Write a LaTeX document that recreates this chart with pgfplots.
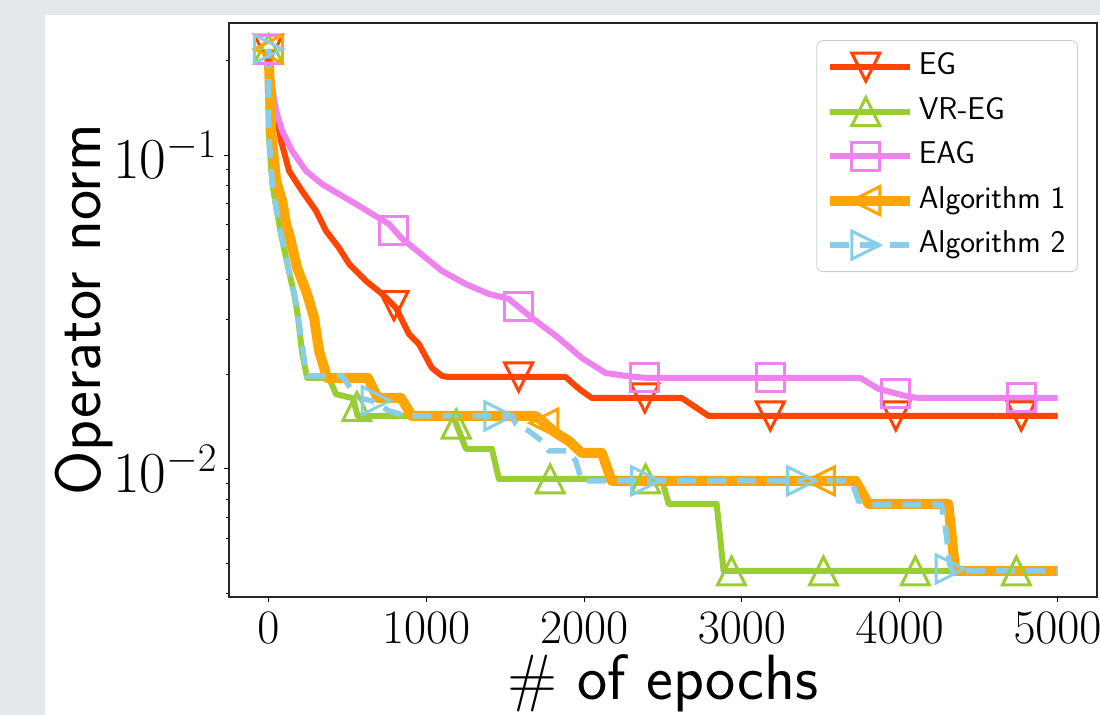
\RequirePackage{fix-cm}
\documentclass[border=0pt]{standalone}
\usepackage{pgfplots}
\pgfplotsset{compat=1.18}

\definecolor{cEG}{HTML}{FF4500}
\definecolor{cVR}{HTML}{9ACD32}
\definecolor{cEAG}{HTML}{EE82EE}
\definecolor{cAa}{HTML}{FFA500}
\definecolor{cAb}{HTML}{87CEEB}
\definecolor{bggray}{RGB}{229,232,234}

% matplotlib-like open markers
\pgfdeclareplotmark{mplv}{%
  \pgfpathmoveto{\pgfqpoint{0pt}{-\pgfplotmarksize}}%
  \pgfpathlineto{\pgfqpoint{-\pgfplotmarksize}{\pgfplotmarksize}}%
  \pgfpathlineto{\pgfqpoint{\pgfplotmarksize}{\pgfplotmarksize}}%
  \pgfpathclose\pgfusepathqstroke}
\pgfdeclareplotmark{mplup}{%
  \pgfpathmoveto{\pgfqpoint{0pt}{\pgfplotmarksize}}%
  \pgfpathlineto{\pgfqpoint{-\pgfplotmarksize}{-\pgfplotmarksize}}%
  \pgfpathlineto{\pgfqpoint{\pgfplotmarksize}{-\pgfplotmarksize}}%
  \pgfpathclose\pgfusepathqstroke}
\pgfdeclareplotmark{mplleft}{%
  \pgfpathmoveto{\pgfqpoint{-\pgfplotmarksize}{0pt}}%
  \pgfpathlineto{\pgfqpoint{\pgfplotmarksize}{-\pgfplotmarksize}}%
  \pgfpathlineto{\pgfqpoint{\pgfplotmarksize}{\pgfplotmarksize}}%
  \pgfpathclose\pgfusepathqstroke}
\pgfdeclareplotmark{mplright}{%
  \pgfpathmoveto{\pgfqpoint{\pgfplotmarksize}{0pt}}%
  \pgfpathlineto{\pgfqpoint{-\pgfplotmarksize}{-\pgfplotmarksize}}%
  \pgfpathlineto{\pgfqpoint{-\pgfplotmarksize}{\pgfplotmarksize}}%
  \pgfpathclose\pgfusepathqstroke}
\pgfdeclareplotmark{mplsq}{%
  \pgfpathrectangle{\pgfqpoint{-\pgfplotmarksize}{-\pgfplotmarksize}}%
    {\pgfqpoint{2\pgfplotmarksize}{2\pgfplotmarksize}}%
  \pgfusepathqstroke}

\begin{document}
\begin{tikzpicture}
\useasboundingbox (0,0) rectangle (550pt,357.5pt);
\fill[bggray] (0,0) rectangle (550pt,357.5pt);
\fill[white] (22.5pt,0) rectangle (550pt,350pt);
\begin{axis}[
    at={(114.5pt,59pt)}, anchor=south west,
    scale only axis,
    width=434pt, height=287pt,
    xmin=-250, xmax=5250,
    ymode=log,
    ymin=0.003908, ymax=0.2634,
    xtick={0,1000,2000,3000,4000,5000},
    ytick={0.01,0.1},
    minor ytick={0.004,0.005,0.006,0.007,0.008,0.009,0.02,0.03,0.04,0.05,0.06,0.07,0.08,0.09,0.2},
    /pgf/number format/1000 sep={},
    tick pos=left,
    tick align=outside,
    major tick length=2.5pt,
    minor tick length=1.5pt,
    every tick/.style={black, line width=0.5pt},
    axis line style={black!85, line width=0.6pt},
    xticklabel style={font=\fontsize{24}{24}\selectfont, inner sep=0pt, yshift=-5pt},
    yticklabel style={font=\fontsize{29}{29}\selectfont, inner sep=0pt, xshift=-3pt},
    xlabel={\# of epochs},
    ylabel={Operator norm},
    xlabel style={font=\sffamily\fontsize{32}{38}\selectfont, at={(axis description cs:0.5,-0.1794)}, anchor=base},
    ylabel style={font=\sffamily\fontsize{32}{38}\selectfont, at={(axis description cs:-0.1475,0.5)}, anchor=base},
    mark size=7pt,
    legend image code/.code={%
      \draw[mark repeat=2,mark phase=2,#1] plot coordinates {(0pt,0pt) (18pt,0pt) (36pt,0pt)};
      \path (0pt,0pt) -- (40pt,0pt);},
    legend cell align=left,
    legend style={at={(0.978,0.970)}, anchor=north east,
      draw=black!20, rounded corners=3pt, fill=white,
      font=\sffamily\fontsize{15.75}{18}\selectfont,
      nodes={inner sep=2pt, text height=11pt, text depth=3.5pt},
      row sep=3.75pt, inner xsep=4pt, inner ysep=4pt,
      /tikz/every even column/.append style={column sep=4pt}},
]
\addlegendimage{cEG, line width=3pt, mark=mplv, mark options={line width=1.5pt, line join=miter}}
\addlegendimage{cVR, line width=3pt, mark=mplup, mark options={line width=1.5pt, line join=miter}}
\addlegendimage{cEAG, line width=3pt, mark=mplsq, mark options={line width=1.5pt, line join=miter}}
\addlegendimage{cAa, line width=5pt, mark=mplleft, mark options={line width=1.5pt, line join=miter}}
\addlegendimage{cAb, line width=2.75pt, dash pattern=on 9.5pt off 5.5pt, mark=mplright, mark options={line width=1.5pt, line join=miter, solid}}
\legend{EG, VR-EG, EAG, Algorithm 1, Algorithm 2}

% EG
\addplot[cEG, line width=3pt, line join=round, forget plot] coordinates {
(0,0.2176) (10,0.185) (30,0.155) (49,0.1351) (80,0.1108) (131,0.0889) (213,0.0768)
(302,0.0663) (365,0.0573) (447,0.0506) (511,0.0450) (618,0.0397) (720,0.0361)
(808,0.0326) (890,0.0269) (953,0.0250) (1035,0.02098) (1100,0.01978) (1140,0.01963)
(1884,0.01963) (1940,0.0185) (1985,0.01772) (2049,0.01683) (2618,0.01683)
(2700,0.0158) (2789,0.01475) (5000,0.01475)};
\addplot[cEG, only marks, mark=mplv, line width=1.5pt, mark options={line join=miter}, forget plot] coordinates {
(0,0.2176) (795,0.0331) (1585,0.01963) (2385,0.01683) (3180,0.01475) (3975,0.01475) (4770,0.01475)};

% VR-EG
\addplot[cVR, line width=3pt, line join=round, forget plot] coordinates {
(0,0.2176) (1,0.1193) (23,0.0826) (42,0.0714) (80,0.0560) (125,0.0437) (163,0.0361)
(188,0.0303) (213,0.0235) (232,0.0210) (245,0.01949) (384,0.01949) (428,0.0173)
(492,0.0170) (535,0.0168) (565,0.01475) (1170,0.01475) (1251,0.01158) (1416,0.01158)
(1460,0.00929) (2492,0.00929) (2536,0.00774) (2840,0.00774) (2884,0.00473) (5000,0.00473)};
\addplot[cVR, only marks, mark=mplup, line width=1.5pt, mark options={line join=miter}, forget plot] coordinates {
(0,0.2176) (560,0.0158) (1190,0.0139) (1785,0.00929) (2390,0.00929) (2934,0.00473)
(3517,0.00473) (4099,0.00473) (4739,0.00473)};

% EAG
\addplot[cEAG, line width=3pt, line join=round, forget plot] coordinates {
(0,0.2176) (10,0.19) (23,0.1634) (49,0.1381) (87,0.1193) (150,0.1030) (239,0.0889)
(340,0.0808) (447,0.0751) (555,0.0698) (657,0.0649) (764,0.0603) (840,0.0545)
(954,0.0490) (1100,0.0427) (1251,0.0388) (1397,0.0361) (1523,0.0348) (1669,0.0303)
(1840,0.0261) (1985,0.02257) (2137,0.02021) (2264,0.01978) (2400,0.01949)
(3751,0.01949) (3865,0.01799) (4036,0.01708) (4118,0.01683) (5000,0.01683)};
\addplot[cEAG, only marks, mark=mplsq, line width=1.5pt, mark options={line join=miter}, forget plot] coordinates {
(0,0.2176) (795,0.0575) (1585,0.0328) (2385,0.01949) (3180,0.01949) (3975,0.0174) (4770,0.01683)};

% Algorithm 1
\addplot[cAa, line width=5pt, line join=round, forget plot] coordinates {
(0,0.2176) (4,0.1949) (17,0.1193) (49,0.0826) (87,0.0714) (112,0.0603) (131,0.0560)
(182,0.0437) (245,0.0361) (289,0.0303) (321,0.02375) (353,0.02098) (372,0.01949)
(630,0.01949) (675,0.0175) (695,0.01683) (840,0.01683) (909,0.01475) (1694,0.01475)
(1821,0.01302) (1903,0.01228) (1985,0.01125) (2112,0.01125) (2175,0.00916)
(3720,0.00916) (3802,0.00774) (4308,0.00774) (4352,0.00473) (5000,0.00473)};
\addplot[cAa, only marks, mark=mplleft, line width=1.5pt, mark options={line join=miter}, forget plot] coordinates {
(0,0.2176) (1745,0.0140) (3498,0.00916)};

% Algorithm 2
\addplot[cAb, line width=2.75pt, dash pattern=on 9.5pt off 5.5pt, forget plot] coordinates {
(0,0.2176) (1,0.1193) (23,0.0826) (42,0.0714) (80,0.0560) (125,0.0437) (163,0.0361)
(188,0.0303) (220,0.02375) (232,0.02098) (245,0.01978) (466,0.01978) (511,0.01837)
(574,0.01683) (657,0.01647) (764,0.01530) (827,0.01497) (909,0.01475) (1542,0.01475)
(1568,0.01391) (1650,0.01321) (1732,0.01228) (1777,0.01141) (1903,0.01141)
(1947,0.01060) (1985,0.00916) (3694,0.00916) (3739,0.00791) (3821,0.00768)
(4264,0.00768) (4285,0.0068) (4300,0.0059) (4315,0.0050) (4335,0.00473) (5000,0.00473)};
\addplot[cAb, only marks, mark=mplright, line width=1.5pt, mark options={line join=miter, solid}, forget plot] coordinates {
(0,0.2176) (682,0.0165) (1460,0.01475) (2390,0.00916) (3378,0.00916) (4320,0.00480)};
\end{axis}
\end{tikzpicture}
\end{document}
